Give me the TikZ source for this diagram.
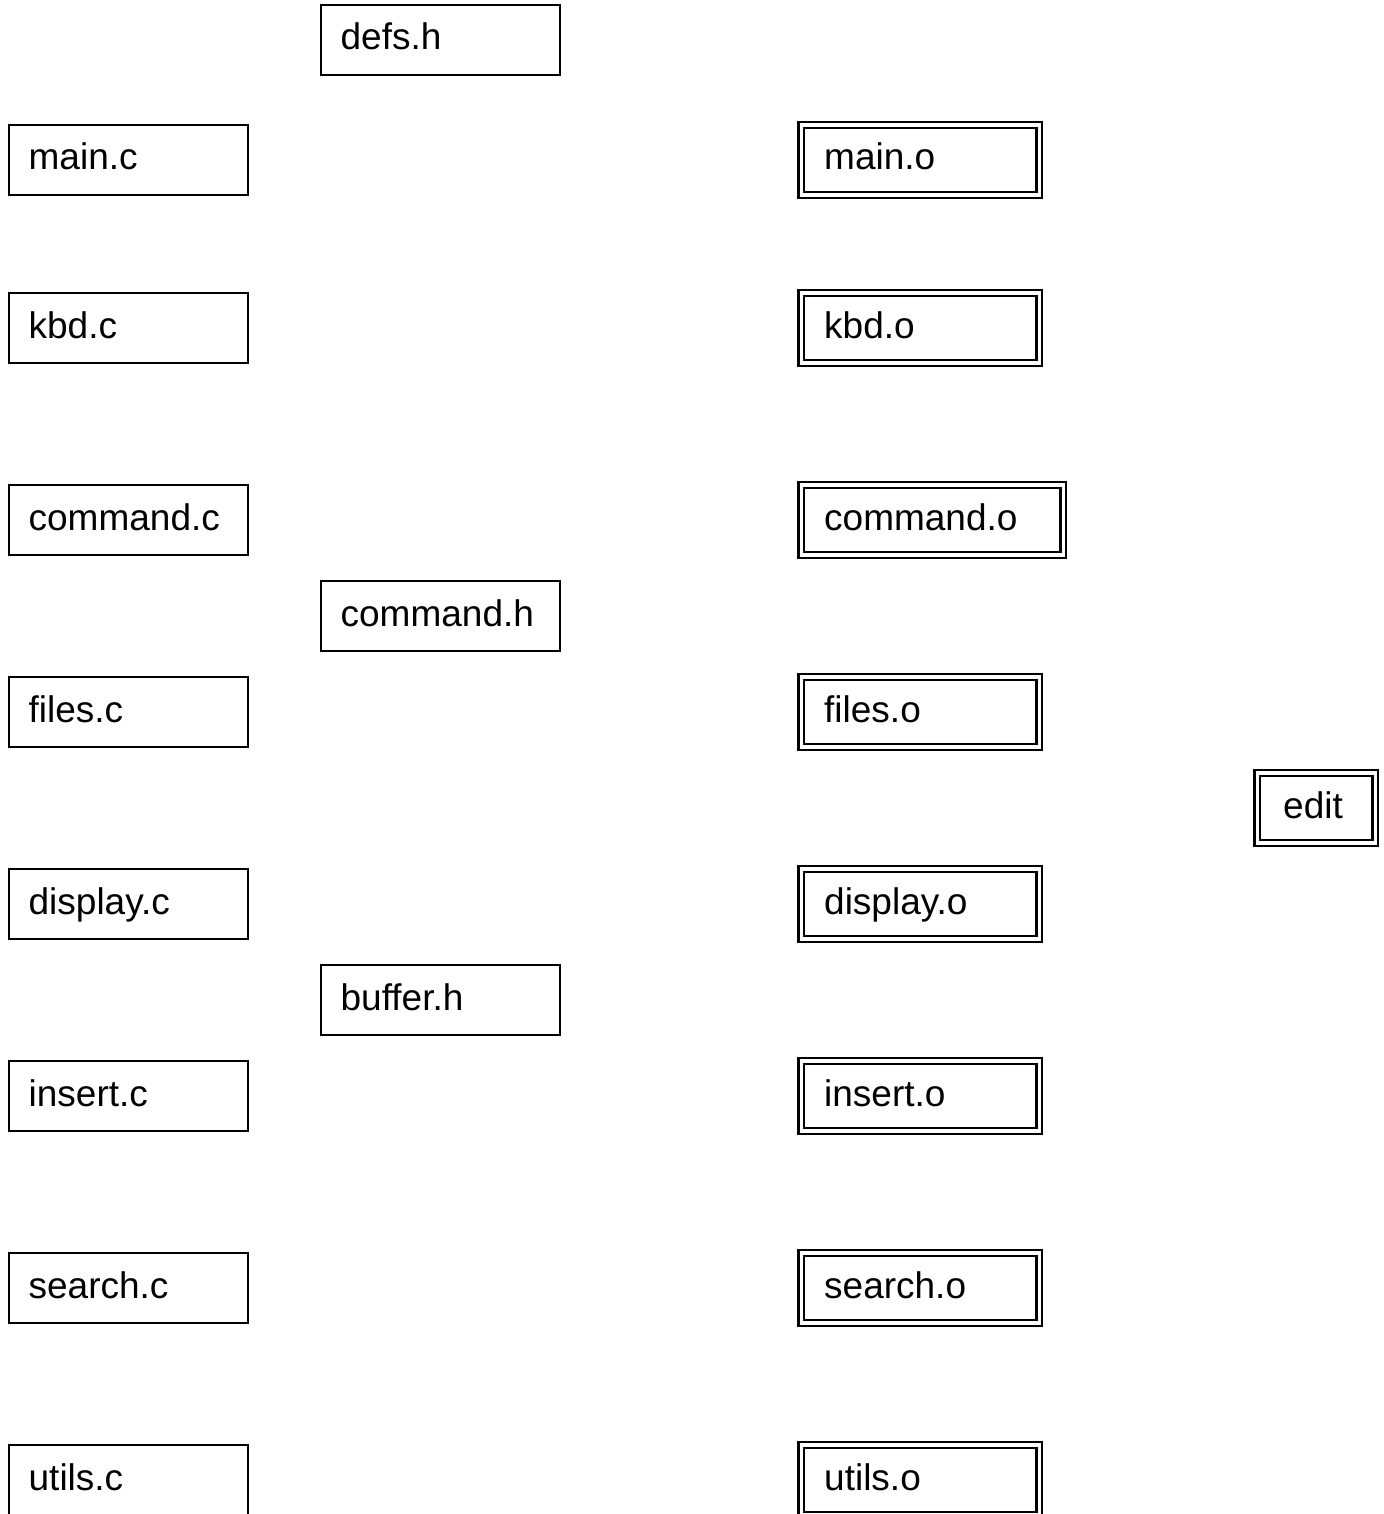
\documentclass[tikz,border=0pt]{standalone}
\usepackage{fontspec}
\setmainfont{Liberation Sans}
\usetikzlibrary{positioning}

\begin{document}
\begin{tikzpicture}
                [x=1pt, y=-1pt,
                filebox/.style={
                    rectangle,
                    draw,
                    line width=1.7pt,
                    anchor=west,
                    align=left,
                    font=\fontsize{37}{44}\selectfont,
                    text height=28.5pt,
                    text depth=8.5pt,
                    inner xsep=20pt,
                    text width=#1,
                    minimum height=70pt
                },
                filebox/.default=199pt,
                objbox/.style={
                    filebox=#1,
                    line width=2.4pt,
                    double,
                    double distance=3.4pt,
                    inner xsep=23pt,
                    minimum height=70pt
                },
                objbox/.default=192pt
                ]
                \useasboundingbox (0,0) rectangle (1383,1514);

                % Source files
                \foreach \file/\pos in {main/160, kbd/328, command/520, files/712, display/904, insert/1096, search/1288, utils/1480}{
                    \node[filebox] (\file-c) at (7.8,\pos) {\file.c};
                }

                % Header files
                \node[filebox] (defs-h) at (319.8,40) {defs.h};
                \node[filebox] (command-h) at (319.8,616) {command.h};
                \node[filebox] (buffer-h) at (319.8,1000) {buffer.h};

                % Object files
                \foreach \file/\pos in {main/160, kbd/328, files/712, display/904, insert/1096, search/1288, utils/1480}{
                    \node[objbox] (\file-o) at (800,\pos) {\file.o};
                }
                \node[objbox=216pt] (command-o) at (800,520) {command.o};

                % Executable
                \node[objbox=66pt, inner xsep=26pt] (edit) at (1256,808) {edit};
            \end{tikzpicture}
\end{document}
